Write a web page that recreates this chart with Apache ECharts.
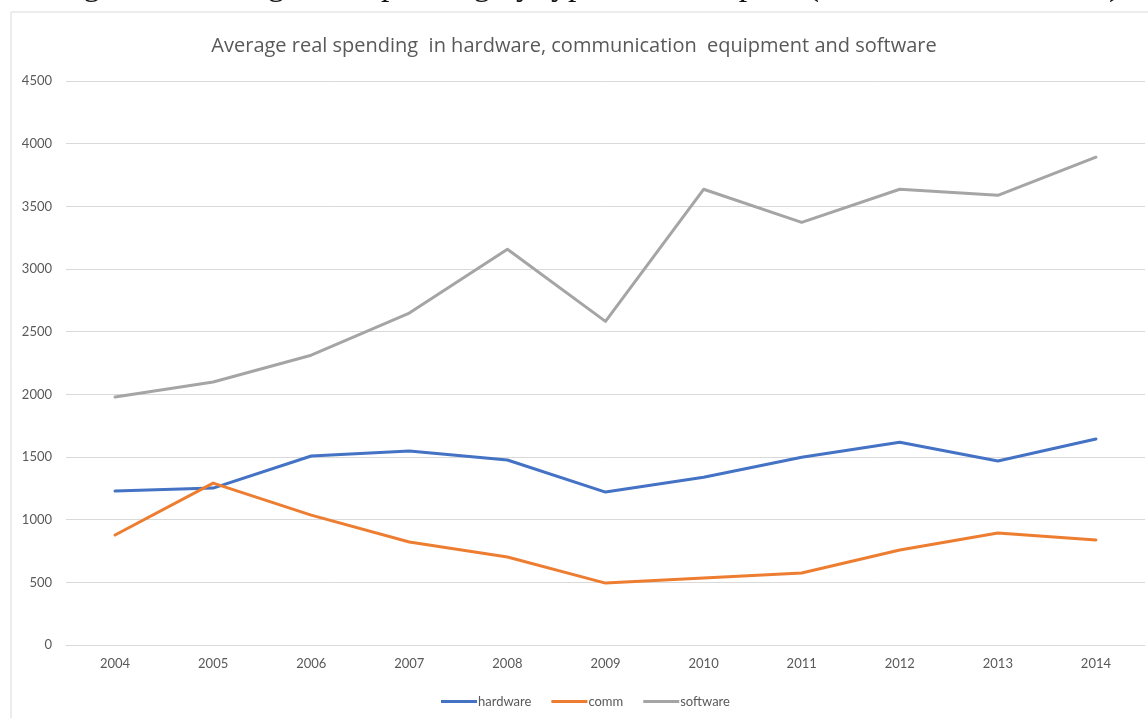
<!DOCTYPE html>
<html>
<head>
<meta charset="utf-8">
<script src="https://cdn.jsdelivr.net/npm/echarts@6/dist/echarts.min.js"></script>
<style>
html,body{margin:0;padding:0;background:#fff;}
#c{width:1148px;height:718px;}
</style>
</head>
<body>
<div id="c"></div>
<script>
const years = ['2004','2005','2006','2007','2008','2009','2010','2011','2012','2013','2014'];
const hardware = [1228, 1252, 1508, 1548, 1476, 1220, 1338, 1498, 1618, 1468, 1644];
const comm = [878, 1292, 1036, 822, 702, 494, 534, 574, 758, 894, 838];
const software = [1978, 2098, 2312, 2648, 3158, 2582, 3636, 3372, 3636, 3588, 3892];
const yTicks = {min: 0, max: 4500, interval: 500};

const chart = echarts.init(document.getElementById('c'), null, {renderer: 'canvas'});
const lineStyleBase = {width: 3, cap: 'round', join: 'round'};
chart.setOption({
  backgroundColor: '#ffffff',
  animation: false,
  title: {
    text: 'Average real spending  in hardware, communication  equipment and software',
    left: 'center', top: 31,
    textStyle: {fontFamily: 'Open Sans', fontSize: 20, fontWeight: 'normal', color: '#595959'}
  },
  graphic: [
    {type: 'rect', shape: {x: 11, y: 12, width: 1300, height: 900}, style: {fill: 'none', stroke: '#D9D9D9', lineWidth: 1}, z: -1},
    {type: 'text', left: 55, top: -31, style: {text: 'Figure 3: Average real spending by type of ICT capital (in thousands of euros)', font: '34px "Liberation Serif"', fill: '#111'}}
  ],
  legend: {
    left: 436, top: 690,
    itemWidth: 36, itemHeight: 3, itemGap: 20,
    icon: 'rect',
    textStyle: {fontFamily: 'Lato', fontSize: 13, color: '#595959', padding: [0,0,0,-4]},
    data: ['hardware', 'comm', 'software']
  },
  grid: {left: 66, right: 3, top: 81, bottom: 73, containLabel: false},
  xAxis: {
    type: 'category', data: years, boundaryGap: true,
    axisLine: {show: true, lineStyle: {color: '#D9D9D9', width: 1}},
    axisTick: {show: false},
    axisLabel: {color: '#595959', fontFamily: 'Lato', fontSize: 13, margin: 12}
  },
  yAxis: {
    type: 'value', min: yTicks.min, max: yTicks.max, interval: yTicks.interval,
    axisLine: {show: false}, axisTick: {show: false},
    splitLine: {lineStyle: {color: '#D9D9D9', width: 1}},
    axisLabel: {color: '#595959', fontFamily: 'Lato', fontSize: 13, margin: 14, formatter: function (v) { return String(v); }}
  },
  series: [
    {name: 'hardware', type: 'line', data: hardware, symbol: 'none', color: '#4472C4', lineStyle: Object.assign({color: '#4472C4'}, lineStyleBase)},
    {name: 'comm', type: 'line', data: comm, symbol: 'none', color: '#ED7D31', lineStyle: Object.assign({color: '#ED7D31'}, lineStyleBase)},
    {name: 'software', type: 'line', data: software, symbol: 'none', color: '#A5A5A5', lineStyle: Object.assign({color: '#A5A5A5'}, lineStyleBase)}
  ]
});
</script>
</body>
</html>
